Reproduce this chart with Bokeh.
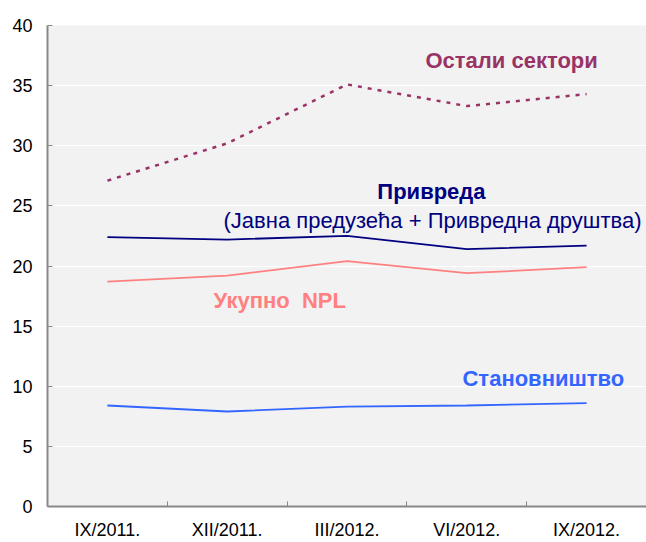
from bokeh.plotting import figure
from bokeh.models import FixedTicker, Label, ColumnDataSource
from bokeh.embed import file_html
from bokeh.resources import INLINE

categories = ["IX/2011.", "XII/2011.", "III/2012.", "VI/2012.", "IX/2012."]
ostali = [27.1, 30.2, 35.1, 33.3, 34.3]
privreda = [22.4, 22.2, 22.5, 21.4, 21.7]
ukupno = [18.7, 19.2, 20.4, 19.4, 19.9]
stanovnistvo = [8.4, 7.9, 8.3, 8.4, 8.6]
y_ticks = [0, 5, 10, 15, 20, 25, 30, 35, 40]

xs = list(range(len(categories)))
src = ColumnDataSource(dict(x=xs, ostali=ostali, privreda=privreda,
                            ukupno=ukupno, stan=stanovnistvo))

FONT = "Liberation Sans"

p = figure(width=646, height=542, output_backend="svg", toolbar_location=None,
           x_range=(-0.5, len(categories) - 0.5), y_range=(0, 40),
           min_border_left=47, min_border_top=25, min_border_right=0,
           min_border_bottom=33)
p.background_fill_color = "#f2f2f2"
p.border_fill_color = "white"
p.outline_line_color = None

# axes
p.xaxis.ticker = FixedTicker(ticks=xs, minor_ticks=[i + 0.5 for i in xs[:-1]])
p.xaxis.major_label_overrides = {i: c for i, c in enumerate(categories)}
p.xaxis.major_tick_in = 0
p.xaxis.major_tick_out = 0
p.xaxis.minor_tick_in = 5
p.xaxis.minor_tick_out = 0
p.xaxis.minor_tick_line_color = "#888888"
p.yaxis.ticker = FixedTicker(ticks=y_ticks)
p.yaxis.major_tick_in = 5
p.yaxis.major_tick_out = 0
p.yaxis.minor_tick_line_color = None
for ax in (p.xaxis, p.yaxis):
    ax.axis_line_color = "#888888"
    ax.axis_line_width = 2
    ax.major_tick_line_color = "#888888"
    ax.major_label_text_font = FONT
    ax.major_label_text_font_size = "18px"
    ax.major_label_text_color = "black"
p.xaxis.major_label_standoff = 13
p.yaxis.major_label_standoff = 15

p.xgrid.grid_line_color = None
p.ygrid.ticker = FixedTicker(ticks=y_ticks)
p.ygrid.grid_line_color = "white"
p.ygrid.grid_line_width = 1

# lines
p.line("x", "ostali", source=src, line_color="#993366", line_width=2.5, line_dash="4 6")
p.line("x", "privreda", source=src, line_color="#000080", line_width=1.8)
p.line("x", "ukupno", source=src, line_color="#ff8080", line_width=1.8)
p.line("x", "stan", source=src, line_color="#3366ff", line_width=1.8)

def lab(x, y, text, color, bold=True, align="left", size="22px"):
    p.add_layout(Label(x=x, y=y, text=text, text_color=color,
                       text_font=FONT, text_font_size=size,
                       text_font_style="bold" if bold else "normal",
                       text_align=align, text_baseline="middle"))

lab(2.655, 37.1, "Остали сектори", "#993366")
lab(2.705, 26.2, "Привреда", "#000080", align="center")
lab(2.714, 23.8, "(Јавна предузећа + Привредна друштва)", "#000080", bold=False, align="center")
lab(0.886, 17.1, "Укупно\u00a0 NPL", "#ff8080")
lab(2.964, 10.66, "Становништво", "#3366ff")

open("out.html", "w").write(file_html(p, INLINE))
